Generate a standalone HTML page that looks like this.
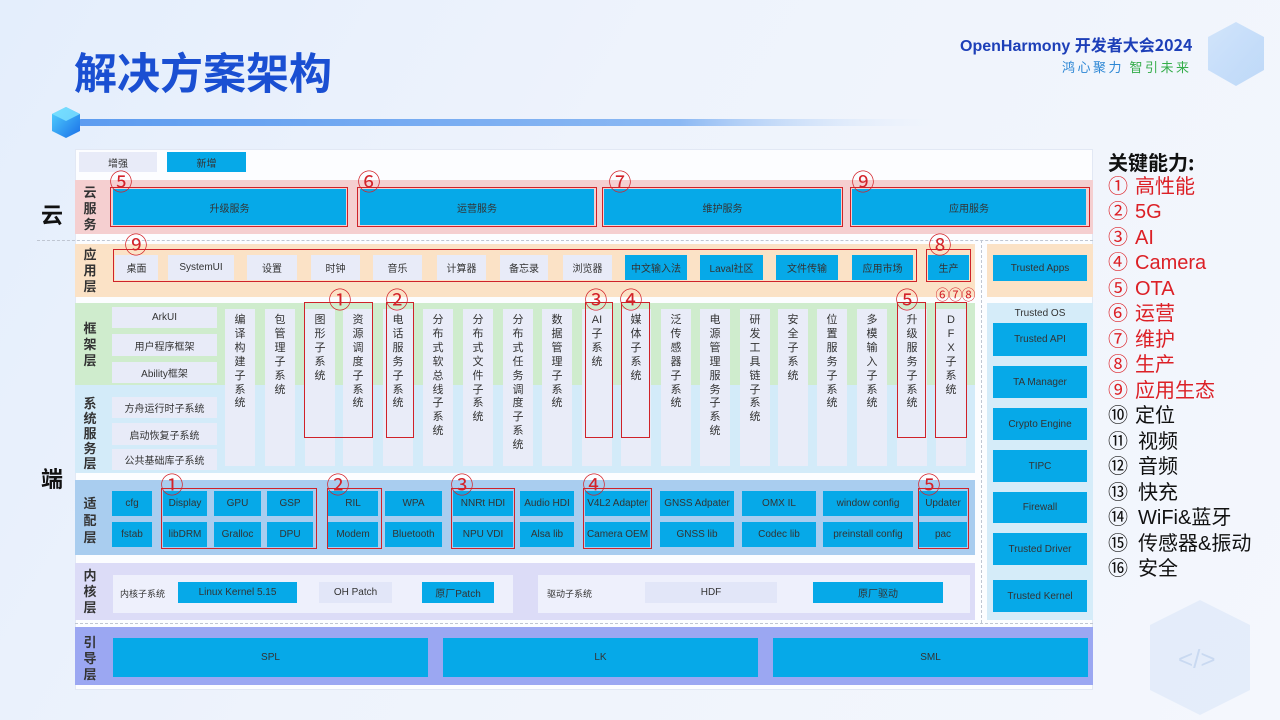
<!DOCTYPE html>
<html><head><meta charset="utf-8">
<style>
*{margin:0;padding:0;box-sizing:border-box}
html,body{width:1280px;height:720px;overflow:hidden}
body{position:relative;background:linear-gradient(120deg,#e4eefc 0%,#eef3fc 40%,#f4f7fd 100%);font-family:"Liberation Sans","Noto Sans CJK SC",sans-serif;color:#333}
.a{position:absolute}
.b{position:absolute;display:flex;align-items:center;justify-content:center;font-size:10px;color:#333;white-space:nowrap;font-family:"Liberation Sans","Noto Sans CJK SC",sans-serif}
.n{background:#06a9e8}
.e{background:#e8ebf8}
.r{position:absolute;border:1.3px solid #cf2229}
.c{position:absolute;width:26px;height:26px;line-height:26px;text-align:center;font-size:23px;color:#d3232a;font-family:"Noto Sans CJK SC",sans-serif}
.lab{position:absolute;left:81px;width:18px;font-size:13px;font-weight:bold;line-height:16px;color:#333;text-align:center;font-family:"Noto Sans CJK SC",sans-serif}
.col{position:absolute;top:309px;height:157px;width:30px;background:#e9ecf8;text-align:center;font-size:11px;line-height:13.9px;padding-top:5px;color:#333;font-family:"Liberation Sans","Noto Sans CJK SC",sans-serif}
.list div{height:25.5px;line-height:25.5px;white-space:nowrap}
.list span{display:inline-block;width:27px}
</style></head><body>

<!-- decorations -->
<svg class="a" style="left:0;top:0" width="1280" height="720">
  <defs>
    <linearGradient id="ln" x1="0" x2="1" y1="0" y2="0">
      <stop offset="0" stop-color="#5d9cf0"/>
      <stop offset="0.7" stop-color="#8bb8f3"/>
      <stop offset="1" stop-color="#e4eefc" stop-opacity="0"/>
    </linearGradient>
    <linearGradient id="cb" x1="0" x2="1" y1="0" y2="1">
      <stop offset="0" stop-color="#52d4ff"/>
      <stop offset="1" stop-color="#1a6fe8"/>
    </linearGradient>
    <linearGradient id="cb2" x1="0" x2="1" y1="0" y2="1">
      <stop offset="0" stop-color="#cfe3fb" stop-opacity="0.9"/>
      <stop offset="1" stop-color="#a9cdf6" stop-opacity="0.7"/>
    </linearGradient>
  </defs>
  <rect x="78" y="119" width="860" height="7" rx="3" fill="url(#ln)"/>
  <polygon points="66,107 80,114 80,131 66,138 52,131 52,114" fill="url(#cb)"/>
  <polygon points="66,107 80,114 66,121 52,114" fill="#7fe4ff" opacity="0.8"/>
  <polygon points="1236,22 1264,37 1264,70 1236,86 1208,70 1208,37" fill="url(#cb2)"/>
  <polygon points="1200,600 1250,625 1250,690 1200,715 1150,690 1150,625" fill="#dde8f8" opacity="0.7"/>
  <text x="1178" y="668" font-size="26" fill="#c9d9f1" font-family="Liberation Sans">&lt;/&gt;</text>
</svg>

<!-- title -->
<div class="a" style="left:74px;top:49px;font-size:43px;line-height:45px;font-weight:bold;color:#1a4fd2;font-family:'Noto Sans CJK SC',sans-serif">解决方案架构</div>

<!-- logo -->
<div class="a" style="left:960px;top:34px;font-size:16px;line-height:20px;font-weight:bold;color:#1d3fb8;white-space:nowrap;font-family:'Liberation Sans','Noto Sans CJK SC',sans-serif">OpenHarmony <span style="font-family:'Noto Sans CJK SC',sans-serif">开发者大会2024</span></div>
<div class="a" style="left:1062px;top:58px;font-size:13px;line-height:18px;white-space:nowrap;letter-spacing:2.5px;font-family:'Noto Sans CJK SC',sans-serif"><span style="color:#2b86d4">鸿心聚力</span> <span style="color:#35ad4a">智引未来</span></div>

<!-- big labels -->
<div class="a" style="left:41px;top:202px;font-size:22px;line-height:24px;font-weight:bold;color:#111;font-family:'Noto Sans CJK SC',sans-serif">云</div>
<div class="a" style="left:41px;top:466px;font-size:22px;line-height:24px;font-weight:bold;color:#111;font-family:'Noto Sans CJK SC',sans-serif">端</div>

<!-- main container -->
<div class="a" style="left:75px;top:149px;width:1018px;height:541px;background:#fcfdff;border:1px solid #e2e8f4"></div>

<!-- legend -->
<div class="b e" style="left:79px;top:152px;width:78px;height:20px">增强</div>
<div class="b n" style="left:167px;top:152px;width:79px;height:20px">新增</div>

<!-- bands -->
<div class="a" style="left:75px;top:180px;width:1018px;height:54px;background:#f5cfd0"></div>
<div class="a" style="left:37px;top:240px;width:1056px;height:0;border-top:1px dashed #bfc6d2"></div>
<div class="a" style="left:75px;top:244px;width:900px;height:53px;background:#fbe2c6"></div>
<div class="a" style="left:987px;top:244px;width:106px;height:53px;background:#fbe2c6"></div>
<div class="a" style="left:75px;top:303px;width:900px;height:82px;background:#cfeccd"></div>
<div class="a" style="left:75px;top:385px;width:900px;height:88px;background:#d3ebf9"></div>
<div class="a" style="left:987px;top:303px;width:106px;height:317px;background:#d5ecf9"></div>
<div class="a" style="left:75px;top:480px;width:900px;height:75px;background:#a9cdef"></div>
<div class="a" style="left:75px;top:563px;width:900px;height:57px;background:#dcdcf7"></div>
<div class="a" style="left:981px;top:240px;width:0;height:383px;border-left:1px dashed #bfc6d2"></div>
<div class="a" style="left:75px;top:623px;width:1018px;height:0;border-top:1px dashed #bfc6d2"></div>
<div class="a" style="left:75px;top:627px;width:1018px;height:58px;background:#9ba7f2"></div>

<!-- layer labels -->
<div class="lab" style="top:184px">云<br>服<br>务</div>
<div class="lab" style="top:246px">应<br>用<br>层</div>
<div class="lab" style="top:320px">框<br>架<br>层</div>
<div class="lab" style="top:395px;line-height:15px">系<br>统<br>服<br>务<br>层</div>
<div class="lab" style="top:494px;line-height:17px">适<br>配<br>层</div>
<div class="lab" style="top:567px">内<br>核<br>层</div>
<div class="lab" style="top:634px">引<br>导<br>层</div>

<!-- cloud -->
<div class="b n" style="left:113px;top:189px;width:233px;height:36px">升级服务</div>
<div class="b n" style="left:360px;top:189px;width:234px;height:36px">运营服务</div>
<div class="b n" style="left:604px;top:189px;width:237px;height:36px">维护服务</div>
<div class="b n" style="left:852px;top:189px;width:234px;height:36px">应用服务</div>
<div class="r" style="left:110px;top:187px;width:238px;height:40px"></div>
<div class="r" style="left:357px;top:187px;width:240px;height:40px"></div>
<div class="r" style="left:602px;top:187px;width:241px;height:40px"></div>
<div class="r" style="left:850px;top:187px;width:240px;height:40px"></div>

<!-- apps -->
<div class="b e" style="left:115px;top:255px;width:43px;height:25px">桌面</div>
<div class="b e" style="left:168px;top:255px;width:66px;height:25px">SystemUI</div>
<div class="b e" style="left:247px;top:255px;width:50px;height:25px">设置</div>
<div class="b e" style="left:311px;top:255px;width:49px;height:25px">时钟</div>
<div class="b e" style="left:373px;top:255px;width:49px;height:25px">音乐</div>
<div class="b e" style="left:437px;top:255px;width:49px;height:25px">计算器</div>
<div class="b e" style="left:500px;top:255px;width:48px;height:25px">备忘录</div>
<div class="b e" style="left:563px;top:255px;width:49px;height:25px">浏览器</div>
<div class="b n" style="left:625px;top:255px;width:62px;height:25px">中文输入法</div>
<div class="b n" style="left:700px;top:255px;width:63px;height:25px">Laval社区</div>
<div class="b n" style="left:776px;top:255px;width:62px;height:25px">文件传输</div>
<div class="b n" style="left:852px;top:255px;width:61px;height:25px">应用市场</div>
<div class="b n" style="left:928px;top:255px;width:41px;height:25px">生产</div>
<div class="r" style="left:113px;top:249px;width:804px;height:33px"></div>
<div class="r" style="left:926px;top:249px;width:45px;height:33px"></div>
<div class="b n" style="left:993px;top:255px;width:94px;height:26px">Trusted Apps</div>

<!-- framework left -->
<div class="b e" style="left:112px;top:307px;width:105px;height:21px">ArkUI</div>
<div class="b e" style="left:112px;top:334px;width:105px;height:22px">用户程序框架</div>
<div class="b e" style="left:112px;top:362px;width:105px;height:21px">Ability框架</div>
<div class="b e" style="left:112px;top:397px;width:105px;height:21px">方舟运行时子系统</div>
<div class="b e" style="left:112px;top:423px;width:105px;height:22px">启动恢复子系统</div>
<div class="b e" style="left:112px;top:449px;width:105px;height:21px">公共基础库子系统</div>

<!-- columns -->
<div class="col" style="left:225px">编<br>译<br>构<br>建<br>子<br>系<br>统</div>
<div class="col" style="left:265px">包<br>管<br>理<br>子<br>系<br>统</div>
<div class="col" style="left:305px">图<br>形<br>子<br>系<br>统</div>
<div class="col" style="left:343px">资<br>源<br>调<br>度<br>子<br>系<br>统</div>
<div class="col" style="left:383px">电<br>话<br>服<br>务<br>子<br>系<br>统</div>
<div class="col" style="left:423px">分<br>布<br>式<br>软<br>总<br>线<br>子<br>系<br>统</div>
<div class="col" style="left:463px">分<br>布<br>式<br>文<br>件<br>子<br>系<br>统</div>
<div class="col" style="left:503px">分<br>布<br>式<br>任<br>务<br>调<br>度<br>子<br>系<br>统</div>
<div class="col" style="left:542px">数<br>据<br>管<br>理<br>子<br>系<br>统</div>
<div class="col" style="left:582px">AI<br>子<br>系<br>统</div>
<div class="col" style="left:621px">媒<br>体<br>子<br>系<br>统</div>
<div class="col" style="left:661px">泛<br>传<br>感<br>器<br>子<br>系<br>统</div>
<div class="col" style="left:700px">电<br>源<br>管<br>理<br>服<br>务<br>子<br>系<br>统</div>
<div class="col" style="left:740px">研<br>发<br>工<br>具<br>链<br>子<br>系<br>统</div>
<div class="col" style="left:778px">安<br>全<br>子<br>系<br>统</div>
<div class="col" style="left:817px">位<br>置<br>服<br>务<br>子<br>系<br>统</div>
<div class="col" style="left:857px">多<br>模<br>输<br>入<br>子<br>系<br>统</div>
<div class="col" style="left:897px">升<br>级<br>服<br>务<br>子<br>系<br>统</div>
<div class="col" style="left:936px">D<br>F<br>X<br>子<br>系<br>统</div>

<div class="r" style="left:304px;top:302px;width:69px;height:136px"></div>
<div class="r" style="left:386px;top:302px;width:28px;height:136px"></div>
<div class="r" style="left:585px;top:302px;width:28px;height:136px"></div>
<div class="r" style="left:621px;top:302px;width:29px;height:136px"></div>
<div class="r" style="left:897px;top:302px;width:29px;height:136px"></div>
<div class="r" style="left:935px;top:302px;width:32px;height:136px"></div>

<!-- trusted column -->
<div class="b" style="left:987px;top:306px;width:106px;height:14px">Trusted OS</div>
<div class="b n" style="left:993px;top:323px;width:94px;height:33px">Trusted API</div>
<div class="b n" style="left:993px;top:366px;width:94px;height:32px">TA Manager</div>
<div class="b n" style="left:993px;top:408px;width:94px;height:32px">Crypto Engine</div>
<div class="b n" style="left:993px;top:450px;width:94px;height:32px">TIPC</div>
<div class="b n" style="left:993px;top:492px;width:94px;height:31px">Firewall</div>
<div class="b n" style="left:993px;top:533px;width:94px;height:32px">Trusted Driver</div>
<div class="b n" style="left:993px;top:580px;width:94px;height:32px">Trusted Kernel</div>

<!-- adapter -->
<div class="b n" style="left:112px;top:491px;width:40px;height:25px">cfg</div>
<div class="b n" style="left:112px;top:522px;width:40px;height:25px">fstab</div>
<div class="b n" style="left:163px;top:491px;width:44px;height:25px">Display</div>
<div class="b n" style="left:163px;top:522px;width:44px;height:25px">libDRM</div>
<div class="b n" style="left:214px;top:491px;width:47px;height:25px">GPU</div>
<div class="b n" style="left:214px;top:522px;width:47px;height:25px">Gralloc</div>
<div class="b n" style="left:267px;top:491px;width:46px;height:25px">GSP</div>
<div class="b n" style="left:267px;top:522px;width:46px;height:25px">DPU</div>
<div class="b n" style="left:328px;top:491px;width:50px;height:25px">RIL</div>
<div class="b n" style="left:328px;top:522px;width:50px;height:25px">Modem</div>
<div class="b n" style="left:385px;top:491px;width:57px;height:25px">WPA</div>
<div class="b n" style="left:385px;top:522px;width:57px;height:25px">Bluetooth</div>
<div class="b n" style="left:453px;top:491px;width:60px;height:25px">NNRt HDI</div>
<div class="b n" style="left:453px;top:522px;width:60px;height:25px">NPU VDI</div>
<div class="b n" style="left:520px;top:491px;width:54px;height:25px">Audio HDI</div>
<div class="b n" style="left:520px;top:522px;width:54px;height:25px">Alsa lib</div>
<div class="b n" style="left:585px;top:491px;width:65px;height:25px">V4L2 Adapter</div>
<div class="b n" style="left:585px;top:522px;width:65px;height:25px">Camera OEM</div>
<div class="b n" style="left:660px;top:491px;width:74px;height:25px">GNSS Adpater</div>
<div class="b n" style="left:660px;top:522px;width:74px;height:25px">GNSS lib</div>
<div class="b n" style="left:742px;top:491px;width:74px;height:25px">OMX IL</div>
<div class="b n" style="left:742px;top:522px;width:74px;height:25px">Codec lib</div>
<div class="b n" style="left:823px;top:491px;width:90px;height:25px">window config</div>
<div class="b n" style="left:823px;top:522px;width:90px;height:25px">preinstall config</div>
<div class="b n" style="left:919px;top:491px;width:48px;height:25px">Updater</div>
<div class="b n" style="left:919px;top:522px;width:48px;height:25px">pac</div>
<div class="r" style="left:161px;top:488px;width:156px;height:61px"></div>
<div class="r" style="left:327px;top:488px;width:55px;height:61px"></div>
<div class="r" style="left:451px;top:488px;width:64px;height:61px"></div>
<div class="r" style="left:583px;top:488px;width:69px;height:61px"></div>
<div class="r" style="left:918px;top:488px;width:51px;height:61px"></div>

<!-- kernel -->
<div class="a" style="left:113px;top:575px;width:400px;height:38px;background:#eef0fc"></div>
<div class="a" style="left:538px;top:575px;width:432px;height:38px;background:#eef0fc"></div>
<div class="b" style="left:120px;top:583px;width:48px;height:20px;font-size:9px;justify-content:flex-start">内核子系统</div>
<div class="b n" style="left:178px;top:582px;width:119px;height:21px">Linux Kernel 5.15</div>
<div class="b" style="left:319px;top:582px;width:73px;height:21px;background:#e2e6f8">OH Patch</div>
<div class="b n" style="left:422px;top:582px;width:72px;height:21px">原厂Patch</div>
<div class="b" style="left:547px;top:583px;width:52px;height:20px;font-size:9px;justify-content:flex-start">驱动子系统</div>
<div class="b" style="left:645px;top:582px;width:132px;height:21px;background:#e2e6f8">HDF</div>
<div class="b n" style="left:813px;top:582px;width:130px;height:21px">原厂驱动</div>

<!-- boot -->
<div class="b n" style="left:113px;top:638px;width:315px;height:39px">SPL</div>
<div class="b n" style="left:443px;top:638px;width:315px;height:39px">LK</div>
<div class="b n" style="left:773px;top:638px;width:315px;height:39px">SML</div>

<!-- circled markers -->
<div class="c" style="left:108px;top:167px">⑤</div>
<div class="c" style="left:356px;top:167px">⑥</div>
<div class="c" style="left:607px;top:167px">⑦</div>
<div class="c" style="left:850px;top:167px">⑨</div>
<div class="c" style="left:123px;top:230px">⑨</div>
<div class="c" style="left:927px;top:230px">⑧</div>
<div class="c" style="left:327px;top:285px">①</div>
<div class="c" style="left:384px;top:285px">②</div>
<div class="c" style="left:583px;top:285px">③</div>
<div class="c" style="left:618px;top:285px">④</div>
<div class="c" style="left:894px;top:285px">⑤</div>
<div class="c" style="left:930px;top:287px;width:50px;font-size:14px;height:16px;line-height:16px;letter-spacing:-1px">⑥⑦⑧</div>
<div class="c" style="left:159px;top:470px">①</div>
<div class="c" style="left:325px;top:470px">②</div>
<div class="c" style="left:449px;top:470px">③</div>
<div class="c" style="left:581px;top:470px">④</div>
<div class="c" style="left:916px;top:470px">⑤</div>

<!-- key capability list -->
<div class="a list" style="left:1108px;top:149px;font-size:20px;font-family:'Liberation Sans','Noto Sans CJK SC',sans-serif">
  <div style="font-weight:bold;color:#111;font-family:'Noto Sans CJK SC',sans-serif">关键能力:</div>
  <div style="color:#dc2026"><span>①</span>高性能</div>
  <div style="color:#dc2026"><span>②</span>5G</div>
  <div style="color:#dc2026"><span>③</span>AI</div>
  <div style="color:#dc2026"><span>④</span>Camera</div>
  <div style="color:#dc2026"><span>⑤</span>OTA</div>
  <div style="color:#dc2026"><span>⑥</span>运营</div>
  <div style="color:#dc2026"><span>⑦</span>维护</div>
  <div style="color:#dc2026"><span>⑧</span>生产</div>
  <div style="color:#dc2026"><span>⑨</span>应用生态</div>
  <div style="color:#111"><span>⑩</span>定位</div>
  <div style="color:#111"><span style="width:30px">⑪</span>视频</div>
  <div style="color:#111"><span style="width:30px">⑫</span>音频</div>
  <div style="color:#111"><span style="width:30px">⑬</span>快充</div>
  <div style="color:#111"><span style="width:30px">⑭</span>WiFi&amp;蓝牙</div>
  <div style="color:#111"><span style="width:30px">⑮</span>传感器&amp;振动</div>
  <div style="color:#111"><span style="width:30px">⑯</span>安全</div>
</div>

</body></html>
